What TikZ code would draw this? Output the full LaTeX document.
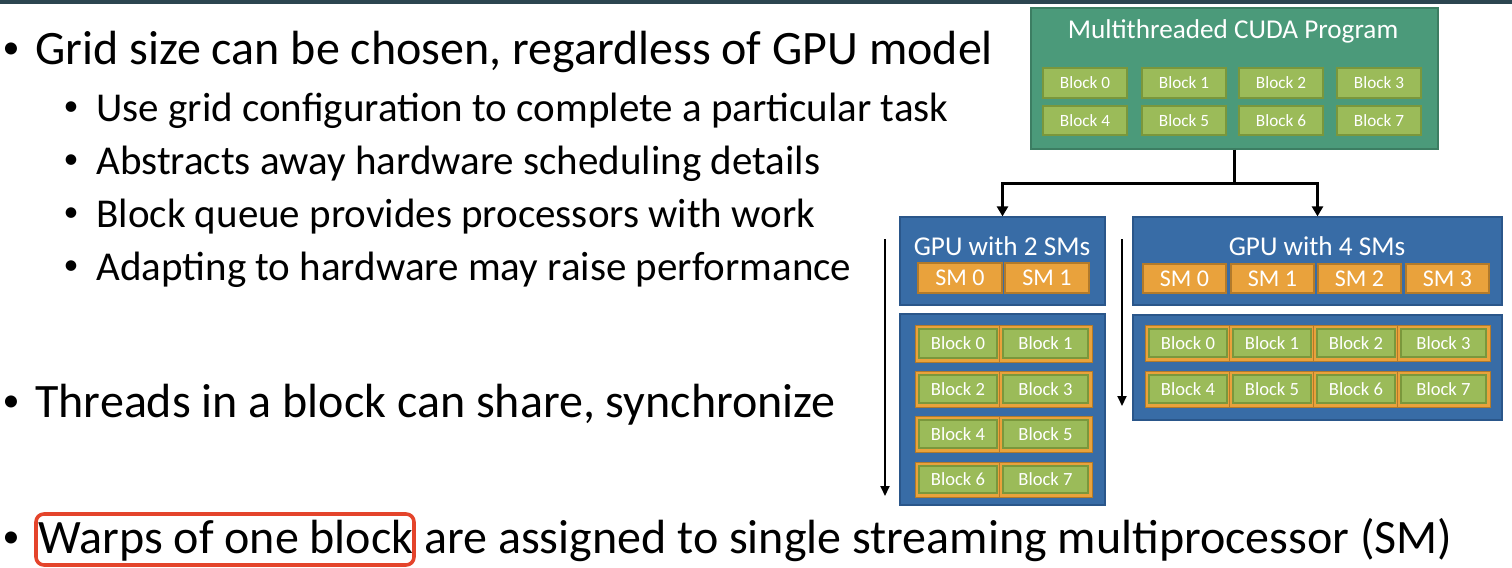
\documentclass[tikz,border=0pt]{standalone}
\usepackage{fontspec}
\setmainfont{Carlito}
\usetikzlibrary{arrows.meta}
\definecolor{topbar}{HTML}{2C4550}
\definecolor{progfill}{HTML}{4B9A7A}
\definecolor{progdraw}{HTML}{3C7D62}
\definecolor{blkfill}{HTML}{9BBB59}
\definecolor{blkdraw}{HTML}{7A973C}
\definecolor{gpufill}{HTML}{386CA6}
\definecolor{gpudraw}{HTML}{2A568A}
\definecolor{smfill}{HTML}{E9A23C}
\definecolor{smdraw}{HTML}{B27A2A}
\definecolor{hl}{HTML}{E4442B}
% name, style, x1, y1, x2, y2, text
\newcommand{\rbx}[7]{%
  \node[#2,minimum width={(#5-(#3))*0.5pt},minimum height={(#6-(#4))*0.5pt},anchor=center]
    (#1) at ({(#3+#5)/2},{(#4+#6)/2}) {#7};}
\begin{document}
\begin{tikzpicture}[x=0.5pt,y=-0.5pt,
  maintxt/.style={inner sep=0pt,anchor=base west,font=\fontsize{24pt}{28pt}\selectfont},
  subtxt/.style={inner sep=0pt,anchor=base west,font=\fontsize{20.5pt}{24pt}\selectfont},
  mainbul/.style={inner sep=0pt,anchor=center,font=\fontsize{17pt}{20pt}\selectfont},
  subbul/.style={inner sep=0pt,anchor=center,font=\fontsize{15pt}{18pt}\selectfont},
  prog/.style={fill=progfill,draw=progdraw,line width=0.6pt,inner sep=0pt},
  pblk/.style={fill=blkfill,draw=blkdraw,line width=0.8pt,inner sep=0pt,text=white,font=\fontsize{8.6pt}{10pt}\selectfont},
  gpu/.style={fill=gpufill,draw=gpudraw,line width=0.6pt,inner sep=0pt},
  gtitle/.style={inner sep=0pt,text=white,font=\fontsize{13.6pt}{16pt}\selectfont},
  sm/.style={fill=smfill,draw=smdraw,line width=0.6pt,inner sep=0pt,text=white,font=\fontsize{12pt}{14pt}\selectfont},
  qframe/.style={fill=smfill,draw=smdraw,line width=0.5pt,inner sep=0pt},
  qblk/.style={fill=blkfill,draw=blkdraw,line width=0.6pt,inner sep=0pt,text=white,font=\fontsize{9.3pt}{11pt}\selectfont},
  bigarr/.style={line width=1.5pt,-{Triangle[width=5.5pt,length=5pt]}},
  flowarr/.style={line width=1pt,-{Triangle[width=4.5pt,length=5pt]}}
]
\useasboundingbox (0,0) rectangle (1512,568);
\fill[topbar] (0,0) rectangle (1512,4);

% left text
\node[mainbul] (b1) at (11,51) {•};
\node[maintxt] (t1) at (35,64) {Grid size can be chosen, regardless of GPU model};
\node[subbul] (sb1) at (71,109) {•};
\node[subtxt] (s1) at (96,121) {Use grid configuration to complete a particular task};
\node[subbul] (sb2) at (71,162) {•};
\node[subtxt] (s2) at (96,174) {Abstracts away hardware scheduling details};
\node[subbul] (sb3) at (71,215) {•};
\node[subtxt] (s3) at (96,227) {Block queue provides processors with work};
\node[subbul] (sb4) at (71,268) {•};
\node[subtxt] (s4) at (96,280) {Adapting to hardware may raise performance};
\node[mainbul] (b2) at (11,404) {•};
\node[maintxt] (t2) at (35,417) {Threads in a block can share, synchronize};
\node[mainbul] (b3) at (11,540) {•};
\node[maintxt] (t3) at (38,553) {Warps of one block are assigned to single streaming multiprocessor (SM)};
\draw[hl,line width=1.8pt,rounded corners=4pt] (36,514) rectangle (414,565);

% program box
\rbx{prog}{prog}{1031}{8}{1438}{149}{}
\node[gtitle] (progtitle) at (1233,31) {Multithreaded CUDA Program};
\foreach \i/\x in {0/1043,1/1142,2/1239,3/1337} {
  \rbx{p\i}{pblk}{\x}{68}{\x+84}{98}{Block \i}
}
\foreach \i/\x in {4/1043,5/1142,6/1239,7/1337} {
  \rbx{p\i}{pblk}{\x}{106}{\x+84}{135}{Block \i}
}

% GPU with 2 SMs
\rbx{gpu2}{gpu}{900}{217}{1105}{305}{}
\node[gtitle] (gpu2title) at (1002,246) {GPU with 2 SMs};
\rbx{g2sm0}{sm}{918}{263}{1002}{293}{SM 0}
\rbx{g2sm1}{sm}{1005}{263}{1089}{293}{SM 1}
\rbx{gpu2q}{gpu}{900}{314}{1105}{505}{}
\foreach \r/\ya/\yb in {0/325/362,1/371/407,2/416/452,3/462/497} {
  \pgfmathtruncatemacro{\ka}{2*\r}
  \pgfmathtruncatemacro{\kb}{2*\r+1}
  \rbx{q2f\ka}{qframe}{915}{\ya}{1001}{\yb}{}
  \rbx{q2f\kb}{qframe}{999}{\ya}{1092}{\yb}{}
  \rbx{q2b\ka}{qblk}{919}{\ya+4}{997}{\yb-4}{Block \ka}
  \rbx{q2b\kb}{qblk}{1003}{\ya+4}{1088}{\yb-4}{Block \kb}
}

% GPU with 4 SMs
\rbx{gpu4}{gpu}{1133}{217}{1502}{305}{}
\node[gtitle] (gpu4title) at (1317,246) {GPU with 4 SMs};
\foreach \i/\x in {0/1143,1/1231,2/1318,3/1406} {
  \rbx{g4sm\i}{sm}{\x}{264}{\x+83}{293}{SM \i}
}
\rbx{gpu4q}{gpu}{1133}{315}{1502}{420}{}
\foreach \r/\ya/\yb in {0/325/361,1/371/407} {
  \foreach \c/\xa/\xb in {0/1145/1231,1/1229/1315,2/1313/1399,3/1397/1490} {
    \pgfmathtruncatemacro{\k}{4*\r+\c}
    \rbx{q4f\k}{qframe}{\xa}{\ya}{\xb}{\yb}{}
    \rbx{q4b\k}{qblk}{\xa+4}{\ya+4}{\xb-4}{\yb-4}{Block \k}
  }
}

% connectors
\coordinate (split) at (prog.south |- 0,183);
\draw[line width=1.5pt] (prog.south) -- (split);
\draw[bigarr] (split) -| (gpu2.north);
\draw[bigarr] (split) -| (gpu4.north);

\coordinate (a1s) at (885,239);
\coordinate (a1e) at (885,496);
\draw[flowarr] (a1s) -- (a1e);
\coordinate (a2s) at (1122,239);
\coordinate (a2e) at (1122,406);
\draw[flowarr] (a2s) -- (a2e);
\end{tikzpicture}
\end{document}
